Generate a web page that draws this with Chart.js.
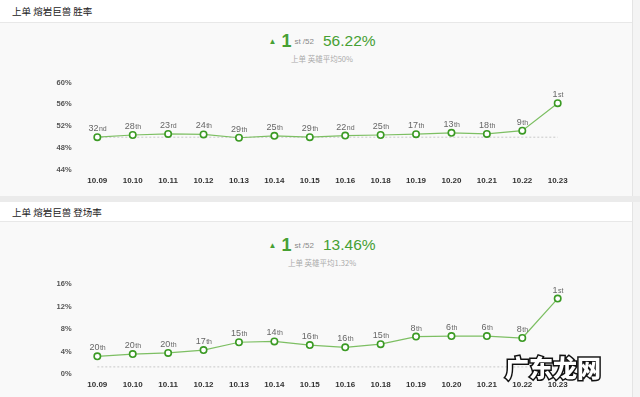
<!DOCTYPE html>
<html>
<head>
<meta charset="utf-8">
<script src="https://cdn.jsdelivr.net/npm/chart.js@4.4.0/dist/chart.umd.min.js"></script>
<style>
  html, body { margin: 0; padding: 0; }
  body { width: 640px; height: 397px; position: relative; overflow: hidden; background: #f4f4f4;
         font-family: "Liberation Sans", "Noto Sans CJK SC", sans-serif; }
  .panel { position: absolute; left: 0; width: 632px; background: #f9f9f9; border-right: 1px solid #e4e4e4; }
  .head { height: 23px; background: #fff; border-bottom: 1px solid #e8e8e8; box-sizing: border-box;
          font-family: "Noto Sans CJK SC", sans-serif; font-size: 9.5px; color: #222; line-height: 23px; padding-left: 12px; }
  .band { position: absolute; left: 0; width: 640px; top: 196px; height: 6px; background: #ebebeb; }
  .big { position: absolute; left: 2px; width: 640px; display: flex; justify-content: center; align-items: center; color: #46a033; }
  .big .tri { font-size: 8px; margin-right: 5px; }
  .big .one { font-size: 18px; font-weight: bold; }
  .big .st { font-size: 8px; color: #888; margin-left: 3px; margin-right: 9px; }
  .big .pct { font-size: 15.5px; }
  .sub { position: absolute; left: 2px; width: 640px; text-align: center; font-family: "Noto Sans CJK SC", sans-serif;
         font-size: 7.5px; color: #aaa; }
  canvas { position: absolute; left: 0; }
  .mark { position: absolute; left: 505px; top: 349px; font-family: "Noto Sans CJK SC", sans-serif; font-weight: 900;
          font-size: 24px; color: #fff; -webkit-text-stroke: 3px #111; paint-order: stroke fill; }
</style>
</head>
<body>
<div class="panel" style="top:0;height:196px;"><div class="head">上单 熔岩巨兽 胜率</div></div>
<div class="band"></div>
<div class="panel" style="top:202px;height:195px;"><div class="head" style="height:20px;line-height:21px;">上单 熔岩巨兽 登场率</div></div>

<div class="big" style="top:31px;height:20px;"><span class="tri">▲</span><span class="one">1</span><span class="st">st /52</span><span class="pct">56.22%</span></div>
<div class="sub" style="top:53px;">上单 英雄平均50%</div>
<div class="big" style="top:235px;height:20px;"><span class="tri">▲</span><span class="one">1</span><span class="st">st /52</span><span class="pct">13.46%</span></div>
<div class="sub" style="top:257px;">上单 英雄平均1.32%</div>

<canvas id="winChart" width="640" height="125" style="top:70px;"></canvas>
<canvas id="pickChart" width="640" height="127" style="top:270px;"></canvas>

<div class="mark">广东龙网</div>

<script>
const dates = ['10.09','10.10','10.11','10.12','10.13','10.14','10.15','10.16','10.18','10.19','10.20','10.21','10.22','10.23'];

// win rate (%) and daily rank
const winRate = [50.0, 50.4, 50.6, 50.5, 49.9, 50.25, 50.0, 50.3, 50.4, 50.55, 50.8, 50.6, 51.2, 56.22];
const winRank = [32, 28, 23, 24, 29, 25, 29, 22, 25, 17, 13, 18, 9, 1];
const winAvg = 50;
const winTicks = [44, 48, 52, 56, 60];

// pick rate (%) and daily rank
const pickRate = [3.2, 3.6, 3.8, 4.3, 5.7, 5.85, 5.2, 4.8, 5.35, 6.7, 6.8, 6.8, 6.45, 13.46];
const pickRank = [20, 20, 20, 17, 15, 14, 16, 16, 15, 8, 6, 6, 8, 1];
const pickAvg = 1.32;
const pickTicks = [0, 4, 8, 12, 16];

function suffix(n) {
  const t = n % 100;
  if (t >= 11 && t <= 13) return 'th';
  return ({1:'st', 2:'nd', 3:'rd'})[n % 10] || 'th';
}

const rankLabels = {
  id: 'rankLabels',
  afterDatasetsDraw(chart, args, opts) {
    const ctx = chart.ctx;
    const meta = chart.getDatasetMeta(0);
    ctx.save();
    ctx.fillStyle = '#666';
    ctx.textBaseline = 'alphabetic';
    ctx.textAlign = 'left';
    meta.data.forEach((pt, i) => {
      const num = String(opts.ranks[i]), suf = suffix(opts.ranks[i]);
      ctx.font = '9px "Liberation Sans"';
      const w1 = ctx.measureText(num).width;
      ctx.font = '7px "Liberation Sans"';
      const w2 = ctx.measureText(suf).width;
      const x0 = pt.x - (w1 + w2) / 2, y0 = pt.y - 6;
      ctx.font = '9px "Liberation Sans"';
      ctx.fillText(num, x0, y0);
      ctx.font = '7px "Liberation Sans"';
      ctx.fillText(suf, x0 + w1 + 0.5, y0);
    });
    ctx.restore();
  }
};

function makeChart(id, values, ranks, avg, ticks, padTop, xHeight, xPad) {
  new Chart(document.getElementById(id), {
    type: 'line',
    data: {
      labels: dates,
      datasets: [
        { data: values, borderColor: '#7dbf63', borderWidth: 1.2, pointRadius: 3.2, pointHoverRadius: 3.2,
          pointBorderWidth: 1.6, pointBorderColor: '#3b9a24', pointBackgroundColor: '#fff', tension: 0 },
        { data: dates.map(() => avg), borderColor: '#c8c8c8', borderWidth: 1, borderDash: [2, 2],
          pointRadius: 0, pointHoverRadius: 0 }
      ]
    },
    options: {
      responsive: false, animation: false, events: [],
      layout: { padding: { top: padTop, right: 64.6, left: 0, bottom: 0 } },
      scales: {
        x: {
          offset: true,
          grid: { display: false, drawTicks: false }, border: { display: false },
          ticks: { color: '#333', font: { family: 'Liberation Sans', size: 8, weight: 'bold' }, padding: xPad, maxRotation: 0 },
          afterFit: s => { s.height = xHeight; }
        },
        y: {
          min: ticks[0], max: ticks[ticks.length - 1],
          grid: { display: false, drawTicks: false }, border: { display: false },
          afterBuildTicks: s => { s.ticks = ticks.map(v => ({ value: v })); },
          ticks: { color: '#555', font: { family: 'Liberation Sans', size: 7.5, weight: 'bold' }, padding: 8,
                   callback: v => v + '%' },
          afterFit: s => { s.width = 79.6; }
        }
      },
      plugins: { legend: { display: false }, tooltip: { enabled: false }, rankLabels: { ranks } }
    },
    plugins: [rankLabels]
  });
}

makeChart('winChart', winRate, winRank, winAvg, winTicks, 10.7, 25, 6);
makeChart('pickChart', pickRate, pickRank, pickAvg, pickTicks, 14.3, 22.7, 5.5);
</script>
</body>
</html>
